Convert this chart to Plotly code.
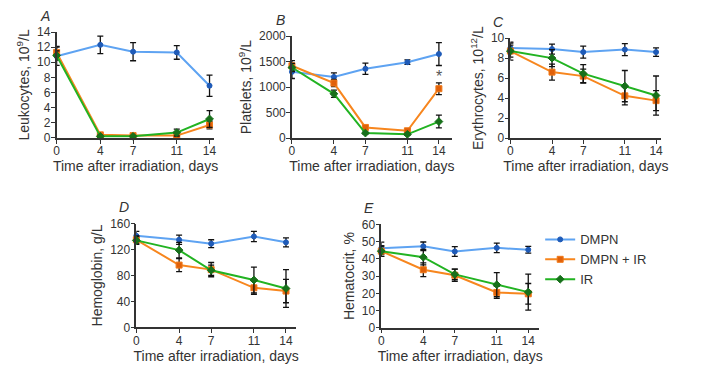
import plotly.graph_objects as go

W, H = 708, 371
days = [0, 4, 7, 11, 14]
series_names = ["DMPN", "DMPN + IR", "IR"]

# Panel A: Leukocytes
leu_dmpn = [10.8, 12.3, 11.4, 11.3, 6.9]
leu_dmpn_err = [1.2, 1.15, 1.2, 0.9, 1.4]
leu_dmpnir = [11.3, 0.4, 0.3, 0.3, 1.7]
leu_dmpnir_err = [0.8, 0.2, 0.15, 0.2, 0.5]
leu_ir = [10.9, 0.2, 0.2, 0.7, 2.5]
leu_ir_err = [0.6, 0.15, 0.1, 0.45, 1.1]

# Panel B: Platelets
plt_dmpn = [1300, 1200, 1360, 1490, 1650]
plt_dmpn_err = [130, 80, 110, 45, 225]
plt_dmpnir = [1420, 1080, 210, 145, 970]
plt_dmpnir_err = [100, 70, 30, 40, 115]
plt_ir = [1385, 870, 100, 75, 325]
plt_ir_err = [80, 70, 20, 20, 125]
plt_star_y = 1200

# Panel C: Erythrocytes
ery_dmpn = [9.0, 8.9, 8.6, 8.85, 8.6]
ery_dmpn_err = [0.5, 0.5, 0.6, 0.6, 0.43]
ery_dmpnir = [8.7, 6.6, 6.2, 4.23, 3.75]
ery_dmpnir_err = [0.9, 0.8, 0.7, 0.9, 1.0]
ery_ir = [8.7, 8.0, 6.45, 5.2, 4.26]
ery_ir_err = [0.6, 0.85, 0.9, 1.56, 1.95]

# Panel D: Hemoglobin
hgb_dmpn = [141, 135, 129, 140, 131]
hgb_dmpn_err = [7, 7, 6, 8, 7]
hgb_dmpnir = [135, 96, 89, 61, 56]
hgb_dmpnir_err = [6, 10, 11, 10, 18]
hgb_ir = [134, 119, 88, 73, 60]
hgb_ir_err = [6, 12, 8, 20, 29]

# Panel E: Hematocrit
hct_dmpn = [46.2, 47.3, 44.3, 46.4, 45.3]
hct_dmpn_err = [3.5, 2.5, 2.8, 2.8, 2.0]
hct_dmpnir = [44.5, 33.7, 30.5, 20.5, 19.7]
hct_dmpnir_err = [3.0, 4.0, 3.5, 3.5, 6.0]
hct_ir = [44.5, 41.0, 31.0, 25.0, 20.7]
hct_ir_err = [3.0, 4.5, 3.0, 7.0, 10.5]

panels = [
    dict(letter="A", ytitle="Leukocytes, 10<sup>9</sup>/L", yrange=[0, 14], dtick=2,
         data=[(leu_dmpn, leu_dmpn_err), (leu_dmpnir, leu_dmpnir_err), (leu_ir, leu_ir_err)],
         px=(54, 208, 213), py=(26, 136)),
    dict(letter="B", ytitle="Platelets, 10<sup>9</sup>/L", yrange=[0, 2000], dtick=500,
         data=[(plt_dmpn, plt_dmpn_err), (plt_dmpnir, plt_dmpnir_err), (plt_ir, plt_ir_err)],
         px=(291, 439, 452), py=(30.3, 136.3)),
    dict(letter="C", ytitle="Erythrocytes, 10<sup>12</sup>/L", yrange=[0, 10], dtick=2,
         data=[(ery_dmpn, ery_dmpn_err), (ery_dmpnir, ery_dmpnir_err), (ery_ir, ery_ir_err)],
         px=(511, 657.7, 663), py=(32.3, 136.3)),
    dict(letter="D", ytitle="Hemoglobin, g/L", yrange=[0, 160], dtick=40,
         data=[(hgb_dmpn, hgb_dmpn_err), (hgb_dmpnir, hgb_dmpnir_err), (hgb_ir, hgb_ir_err)],
         px=(134.3, 285, 295), py=(225, 333)),
    dict(letter="E", ytitle="Hematocrit, %", yrange=[0, 60], dtick=10,
         data=[(hct_dmpn, hct_dmpn_err), (hct_dmpnir, hct_dmpnir_err), (hct_ir, hct_ir_err)],
         px=(381, 529, 540), py=(226, 333.3)),
]

line_colors = ["#5ea3f2", "#f7861e", "#22b322"]
marker_colors = ["#1f5bb8", "#e0600a", "#17701a"]
marker_line = ["#1f5bb8", "#f07a1a", "#17701a"]
symbols = ["circle", "square", "diamond"]
msizes = [5, 6, 6]

FONT = "Liberation Sans, Arial, sans-serif"
TXT = "#333333"

fig = go.Figure()
layout = dict(width=W, height=H, margin=dict(l=0, r=0, t=0, b=0),
              paper_bgcolor="white", plot_bgcolor="white",
              font=dict(family=FONT, size=12, color=TXT),
              showlegend=True)
annotations = []

for i, p in enumerate(panels):
    k = "" if i == 0 else str(i + 1)
    x0, x14, xend = p["px"]
    per = (x14 - x0) / 14.0
    xmax = (xend - x0) / per
    ytop, ybot = p["py"]
    layout["xaxis" + k] = dict(
        domain=[x0 / W, xend / W], range=[0, xmax], anchor="y" + k,
        tickvals=days, ticktext=[str(d) for d in days],
        showline=True, linecolor="#333333", linewidth=1.5,
        ticks="outside", ticklen=4, tickwidth=1.3, tickcolor="#333333",
        showgrid=False, zeroline=False, ticklabelstandoff=-3,
        tickfont=dict(size=12, color=TXT),
        title=dict(text="Time after irradiation, days", font=dict(size=14, color=TXT), standoff=2),
    )
    layout["yaxis" + k] = dict(
        domain=[1 - ybot / H, 1 - ytop / H], range=p["yrange"], anchor="x" + k,
        dtick=p["dtick"], tick0=0,
        showline=True, linecolor="#333333", linewidth=1.5,
        ticks="outside", ticklen=4, tickwidth=1.3, tickcolor="#333333",
        showgrid=False, zeroline=False, ticklabelstandoff=-2,
        tickfont=dict(size=12, color=TXT),
        title=dict(text=p["ytitle"], font=dict(size=14, color=TXT), standoff=4),
    )
    for j, (vals, errs) in enumerate(p["data"]):
        fig.add_trace(go.Scatter(
            x=days, y=vals, mode="lines+markers", name=series_names[j],
            legendgroup=series_names[j], showlegend=(i == 0),
            xaxis="x" + k, yaxis="y" + k, cliponaxis=False,
            line=dict(color=line_colors[j], width=2),
            marker=dict(symbol=symbols[j], size=msizes[j], color=marker_colors[j],
                        line=dict(color=marker_line[j], width=1)),
            error_y=dict(type="data", array=errs, visible=True, color="#111111",
                         thickness=1.3, width=3),
        ))
    annotations.append(dict(
        text="<i>%s</i>" % p["letter"], xref="paper", yref="paper",
        x=(x0 - 12) / W, y=1 - (ytop - 17) / H, xanchor="center", yanchor="middle",
        showarrow=False, font=dict(size=14, color=TXT)))

# asterisk in panel B above DMPN + IR at day 14
annotations.append(dict(text="*", x=14, y=plt_star_y, xref="x2", yref="y2",
                        showarrow=False, font=dict(size=16, color="#555555"),
                        xanchor="center", yanchor="middle"))

layout["annotations"] = annotations
layout["legend"] = dict(x=541 / W, y=1 - 226 / H, xanchor="left", yanchor="top",
                        font=dict(size=13, color=TXT), bgcolor="rgba(0,0,0,0)",
                        borderwidth=0, itemwidth=30, tracegroupgap=0)
fig.update_layout(**layout)
fig.write_html("out.html")
